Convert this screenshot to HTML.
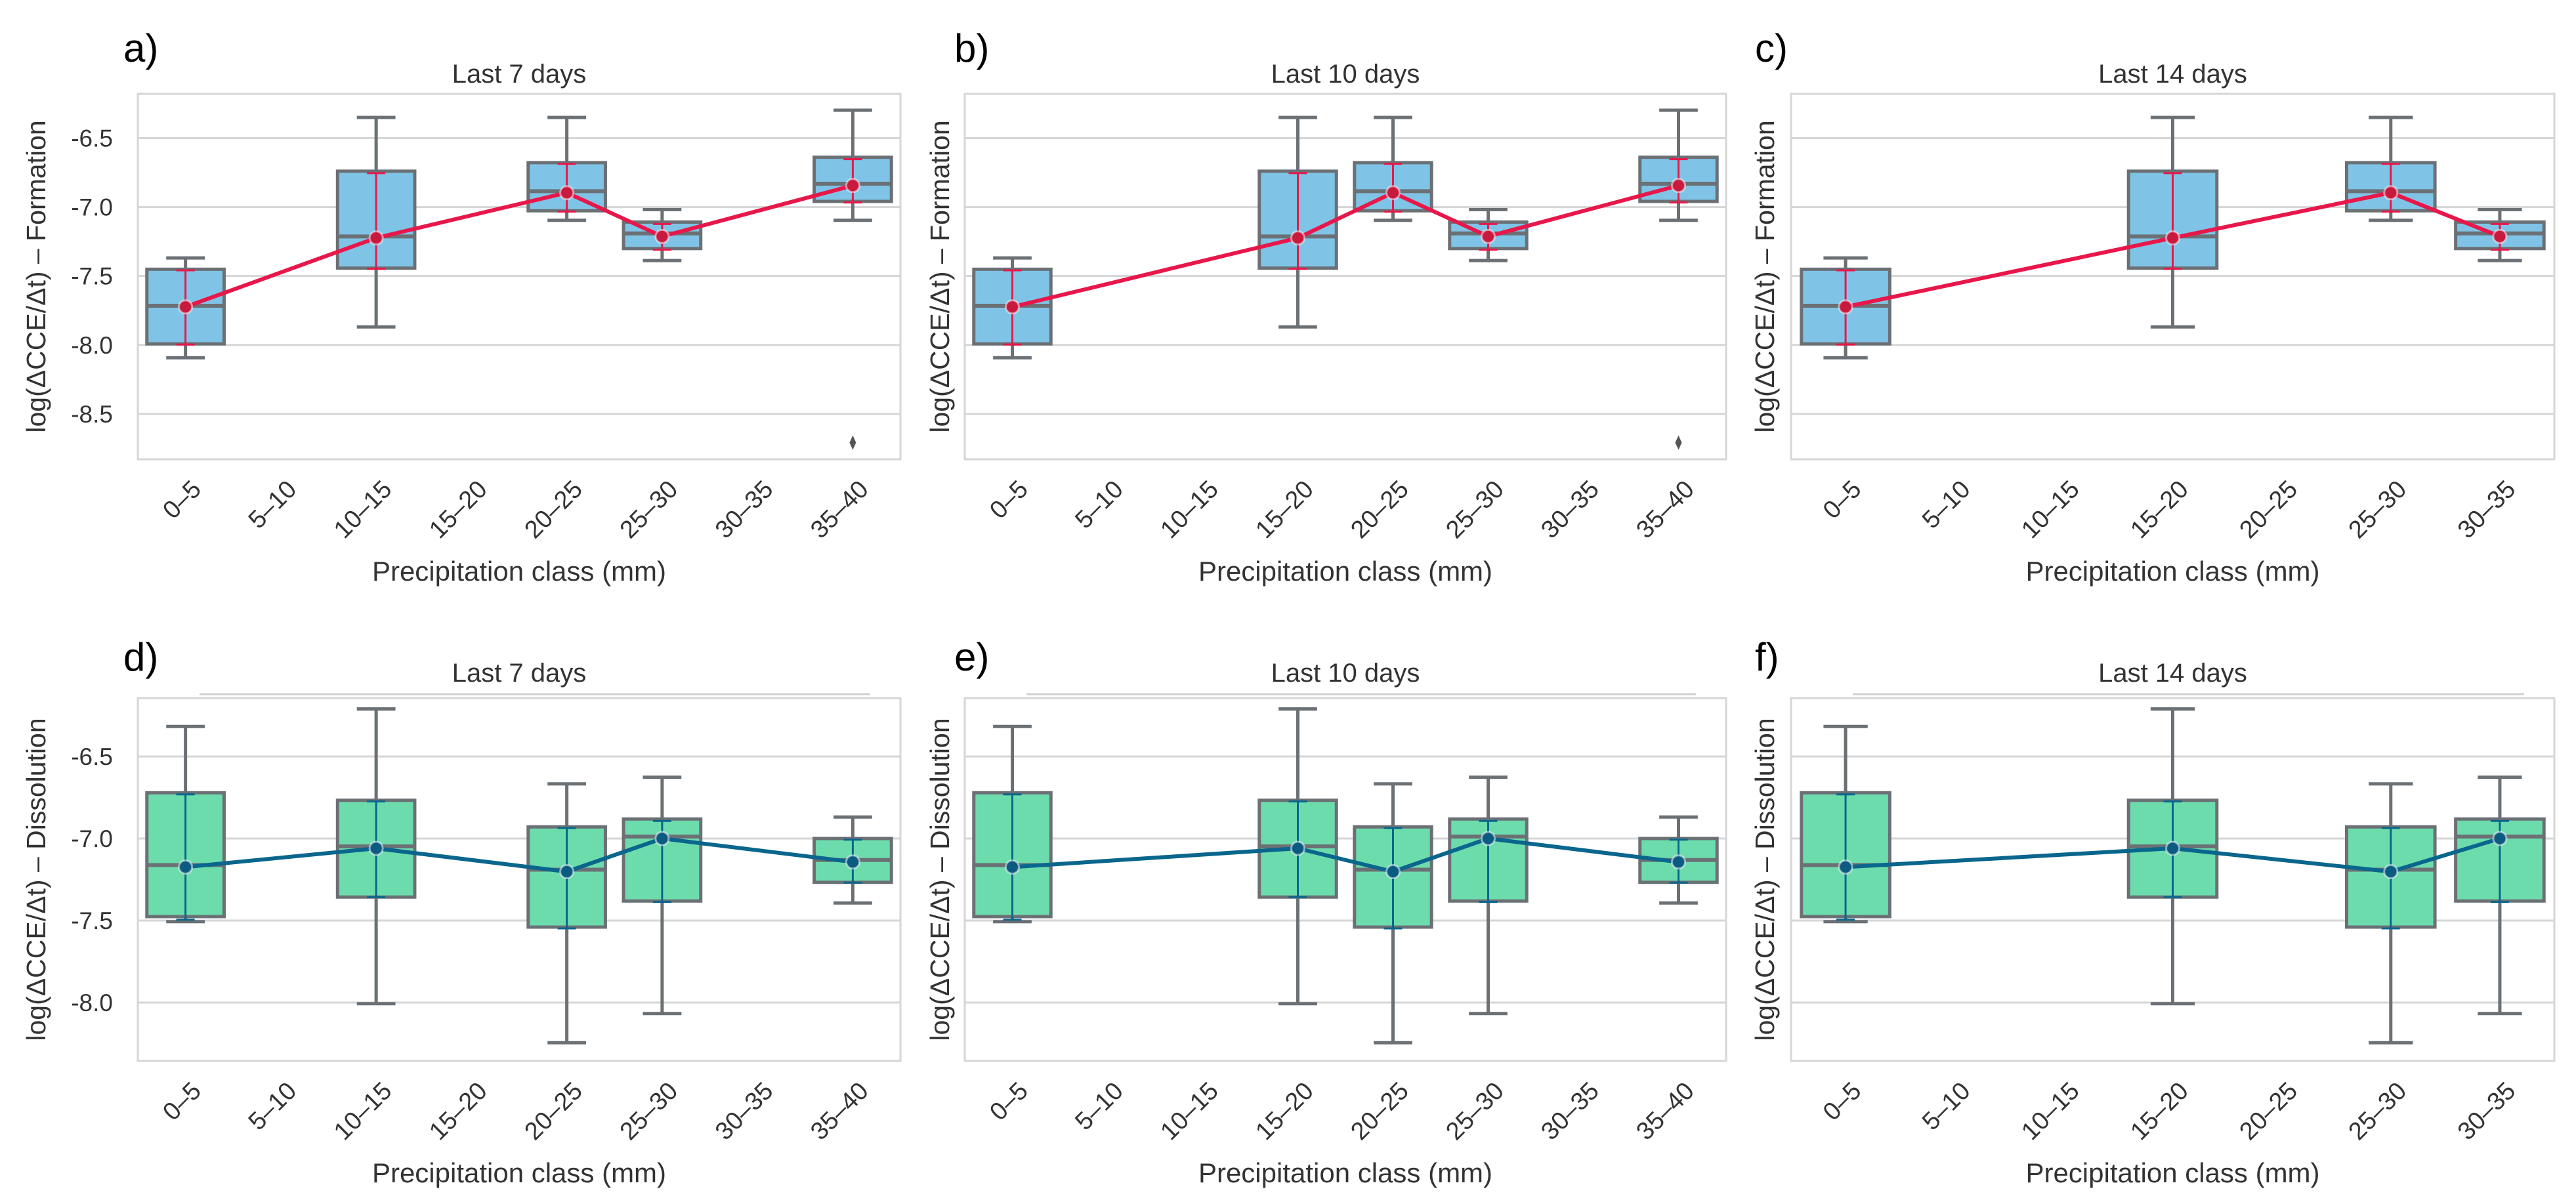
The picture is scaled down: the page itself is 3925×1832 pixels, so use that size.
<!DOCTYPE html>
<html><head><meta charset="utf-8"><style>
html,body{margin:0;padding:0;background:#fff;}
svg{display:block;font-family:"Liberation Sans",Arial,sans-serif;}
</style></head><body>
<svg id="fig" width="3925" height="1832" viewBox="0 0 3925 1832" xmlns="http://www.w3.org/2000/svg"></svg>
<script>
const cats8=["0–5","5–10","10–15","15–20","20–25","25–30","30–35","35–40"];
const cats7=["0–5","5–10","10–15","15–20","20–25","25–30","30–35"];
const yTicksTop=[-6.5,-7.0,-7.5,-8.0,-8.5];
const yTicksBot=[-6.5,-7.0,-7.5,-8.0];
const formA_idx=[0,2,4,5,7];
const formB_idx=[0,3,4,5,7];
const formC_idx=[0,3,5,6];
const formWhiHi=[-7.369,-6.35,-6.35,-7.019,-6.298];
const formQ3=[-7.451,-6.74,-6.678,-7.109,-6.639];
const formMed=[-7.716,-7.213,-6.885,-7.191,-6.831];
const formQ1=[-7.992,-7.443,-7.027,-7.301,-6.959];
const formWhiLo=[-8.093,-7.869,-7.096,-7.388,-7.096];
const formMean=[-7.724,-7.224,-6.896,-7.213,-6.844];
const formCiHi=[-7.459,-6.754,-6.686,-7.123,-6.653];
const formCiLo=[-7.997,-7.448,-7.033,-7.309,-6.967];
const formOutlier=[null,null,null,null,-8.708];
const dissA_idx=[0,2,4,5,7];
const dissB_idx=[0,3,4,5,7];
const dissC_idx=[0,3,5,6];
const dissWhiHi=[-6.317,-6.210,-6.667,-6.626,-6.869];
const dissQ3=[-6.721,-6.767,-6.929,-6.881,-7.0];
const dissMed=[-7.162,-7.048,-7.19,-6.988,-7.131];
const dissQ1=[-7.476,-7.357,-7.540,-7.381,-7.267];
const dissWhiLo=[-7.507,-8.007,-8.245,-8.067,-7.393];
const dissMean=[-7.174,-7.06,-7.202,-7.0,-7.143];
const dissCiHi=[-6.731,-6.774,-6.936,-6.893,-7.007];
const dissCiLo=[-7.495,-7.357,-7.548,-7.386,-7.269];

const NS="http://www.w3.org/2000/svg";
const svg=document.getElementById('fig');
function el(tag,attrs,parent){const e=document.createElementNS(NS,tag);for(const k in attrs)e.setAttribute(k,attrs[k]);(parent||svg).appendChild(e);return e;}

const cols=[{l:210,r:1372,yl:55,letterX:188},{l:1470,r:2630,yl:1432,letterX:1454},{l:2729,r:3892,yl:2689,letterX:2674}];
const rows=[{t:143,b:700,vTop:-6.179,vBot:-8.829,title:126,xl:885,letter:94,ticks:yTicksTop,fill:"#7fc4e6",line:"#e8174a",mk:"#c8193f",name:"Formation",extra:false,
  hi:formWhiHi,q3:formQ3,med:formMed,q1:formQ1,lo:formWhiLo,mean:formMean,cih:formCiHi,cil:formCiLo,out:formOutlier,idx:[formA_idx,formB_idx,formC_idx]},
 {t:1064,b:1617,vTop:-6.144,vBot:-8.356,title:1039,xl:1802,letter:1022,ticks:yTicksBot,fill:"#6ddcad",line:"#0a668c",mk:"#0b5a80",name:"Dissolution",extra:true,
  hi:dissWhiHi,q3:dissQ3,med:dissMed,q1:dissQ1,lo:dissWhiLo,mean:dissMean,cih:dissCiHi,cil:dissCiLo,out:[null,null,null,null,null],idx:[dissA_idx,dissB_idx,dissC_idx]}];
const titles=["Last 7 days","Last 10 days","Last 14 days"];
const letters=[["a)","b)","c)"],["d)","e)","f)"]];

rows.forEach((R,ri)=>{
  cols.forEach((C,ci)=>{
    const g=el('g',{});
    
    
    const cats=ci===2?cats7:cats8;
    const bw=(C.r-C.l)/cats.length;
    const xc=i=>C.l+bw*(i+0.5);
    const y=v=>R.t+(v-R.vTop)/(R.vBot-R.vTop)*(R.b-R.t);
    R.ticks.forEach(v=>{
      const gl=el('line',{x1:C.l,x2:C.r,y1:y(v),y2:y(v),stroke:"#d6d6d6","stroke-width":3},g);
      
      
      if(ci===0){
        const t=el('text',{x:C.l-38,y:y(v)+13,"text-anchor":"end","font-size":37,fill:"#333"},g);
        t.textContent=v.toFixed(1);
        
        
      }
    });
    const fr=el('rect',{x:C.l,y:R.t,width:C.r-C.l,height:R.b-R.t,fill:"none",stroke:"#d6d6d6","stroke-width":3},g);
    
    
    if(R.extra){
      const ex=el('line',{x1:C.l+94,x2:C.r-46,y1:R.t-6,y2:R.t-6,stroke:"#d0d0d0","stroke-width":3},g);
      
      
    }
    const tt=el('text',{x:(C.l+C.r)/2,y:R.title,"text-anchor":"middle","font-size":40,fill:"#333"},g);
    tt.textContent=titles[ci];
    
    
    const lt=el('text',{x:C.letterX,y:R.letter,"font-size":60,fill:"#000"},g);
    lt.textContent=letters[ri][ci];
    
    
    const yl=el('text',{x:C.yl,y:(R.t+R.b)/2,"text-anchor":"middle","font-size":41,fill:"#333",transform:`rotate(-90 ${C.yl} ${(R.t+R.b)/2})`,dy:14},g);
    yl.textContent="log(ΔCCE/Δt) – "+R.name;
    
    
    const xl=el('text',{x:(C.l+C.r)/2,y:R.xl,"text-anchor":"middle","font-size":42,fill:"#333"},g);
    xl.textContent="Precipitation class (mm)";
    
    
    cats.forEach((c,i)=>{
      const ax=xc(i)+26, ay=R.b+48;
      const t=el('text',{x:ax,y:ay,"text-anchor":"end","font-size":38,fill:"#333",transform:`rotate(-45 ${ax} ${ay})`},g);
      t.textContent=c;
      
      
    });
    const idx=R.idx[ci];
    const boxW=bw*0.81;
    const pts=[];
    idx.forEach((ci2,k)=>{
      const cx=xc(ci2);
      const bg=el('g',{},g);
      
      
      const ed="#6b7075";
      el('line',{x1:cx,x2:cx,y1:y(R.hi[k]),y2:y(R.q3[k]),stroke:ed,"stroke-width":5},bg);
      el('line',{x1:cx,x2:cx,y1:y(R.q1[k]),y2:y(R.lo[k]),stroke:ed,"stroke-width":5},bg);
      el('line',{x1:cx-boxW/4,x2:cx+boxW/4,y1:y(R.hi[k]),y2:y(R.hi[k]),stroke:ed,"stroke-width":5},bg);
      el('line',{x1:cx-boxW/4,x2:cx+boxW/4,y1:y(R.lo[k]),y2:y(R.lo[k]),stroke:ed,"stroke-width":5},bg);
      el('rect',{x:cx-boxW/2,y:y(R.q3[k]),width:boxW,height:y(R.q1[k])-y(R.q3[k]),fill:R.fill,stroke:ed,"stroke-width":5},bg);
      el('line',{x1:cx-boxW/2,x2:cx+boxW/2,y1:y(R.med[k]),y2:y(R.med[k]),stroke:ed,"stroke-width":6},bg);
      if(R.out[k]!==null){
        const o=y(R.out[k]);
        el('path',{d:`M${cx} ${o-11} L${cx+5} ${o} L${cx} ${o+11} L${cx-5} ${o} Z`,fill:"#555"},bg);
      }
      pts.push([cx,k]);
    });
    pts.forEach(([cx,k])=>{
      const cg=el('g',{},g);
      
      
      el('line',{x1:cx,x2:cx,y1:y(R.cih[k]),y2:y(R.cil[k]),stroke:R.line,"stroke-width":3},cg);
      el('line',{x1:cx-14,x2:cx+14,y1:y(R.cih[k]),y2:y(R.cih[k]),stroke:R.line,"stroke-width":3},cg);
      el('line',{x1:cx-14,x2:cx+14,y1:y(R.cil[k]),y2:y(R.cil[k]),stroke:R.line,"stroke-width":3},cg);
    });
    const pl=el('polyline',{points:pts.map(([cx,k])=>cx+','+y(R.mean[k])).join(' '),fill:"none",stroke:R.line,"stroke-width":6,"stroke-linejoin":"round"},g);
    
    
    pts.forEach(([cx,k])=>{
      const m=el('circle',{cx:cx,cy:y(R.mean[k]),r:10,fill:R.mk,stroke:"#fff","stroke-opacity":0.5,"stroke-width":3},g);
      
      
    });
  });
});
</script>
</body></html>
